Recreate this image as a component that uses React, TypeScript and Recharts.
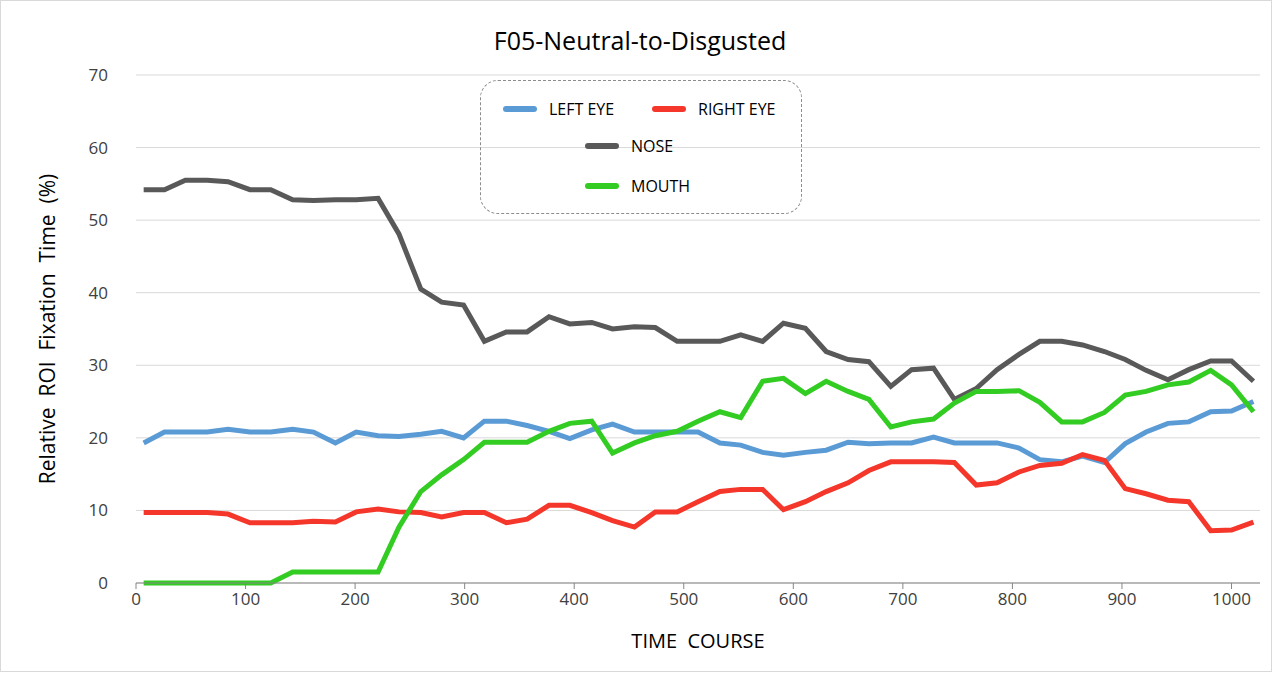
import React from 'react';
import { LineChart, Line, XAxis, YAxis, CartesianGrid } from 'recharts';

const times = [7, 26, 45, 65, 84, 104, 123, 143, 162, 182, 201, 221, 240, 260, 279, 299, 318, 338, 357, 377, 396, 416, 435, 455, 474, 494, 513, 533, 552, 572, 591, 611, 630, 650, 669, 689, 708, 728, 747, 767, 786, 806, 825, 845, 864, 884, 903, 922, 942, 961, 981, 1000, 1020];

const leftEye = [19.3, 20.8, 20.8, 20.8, 21.2, 20.8, 20.8, 21.2, 20.8, 19.3, 20.8, 20.3, 20.2, 20.5, 20.9, 20.0, 22.3, 22.3, 21.7, 20.9, 19.9, 21.1, 21.9, 20.8, 20.8, 20.8, 20.8, 19.3, 19.0, 18.0, 17.6, 18.0, 18.3, 19.4, 19.2, 19.3, 19.3, 20.1, 19.3, 19.3, 19.3, 18.6, 17.0, 16.7, 17.5, 16.6, 19.2, 20.8, 22.0, 22.2, 23.6, 23.7, 25.0];
const rightEye = [9.7, 9.7, 9.7, 9.7, 9.5, 8.3, 8.3, 8.3, 8.5, 8.4, 9.8, 10.2, 9.8, 9.7, 9.1, 9.7, 9.7, 8.3, 8.8, 10.7, 10.7, 9.7, 8.6, 7.7, 9.8, 9.8, 11.2, 12.6, 12.9, 12.9, 10.1, 11.2, 12.6, 13.8, 15.5, 16.7, 16.7, 16.7, 16.6, 13.5, 13.8, 15.3, 16.2, 16.5, 17.7, 16.9, 13.0, 12.3, 11.4, 11.2, 7.2, 7.3, 8.4];
const nose = [54.2, 54.2, 55.5, 55.5, 55.3, 54.2, 54.2, 52.8, 52.7, 52.8, 52.8, 53.0, 48.1, 40.5, 38.7, 38.3, 33.3, 34.6, 34.6, 36.7, 35.7, 35.9, 35.0, 35.3, 35.2, 33.3, 33.3, 33.3, 34.2, 33.3, 35.8, 35.1, 31.9, 30.8, 30.5, 27.1, 29.4, 29.6, 25.3, 26.8, 29.4, 31.5, 33.3, 33.3, 32.8, 31.9, 30.8, 29.3, 28.0, 29.4, 30.6, 30.6, 27.8];
const mouth = [0, 0, 0, 0, 0, 0, 0, 1.5, 1.5, 1.5, 1.5, 1.5, 7.7, 12.6, 14.9, 17.0, 19.4, 19.4, 19.4, 20.9, 22.0, 22.3, 17.9, 19.3, 20.3, 20.9, 22.3, 23.6, 22.8, 27.8, 28.2, 26.1, 27.8, 26.4, 25.3, 21.5, 22.2, 22.6, 24.8, 26.4, 26.4, 26.5, 24.9, 22.2, 22.2, 23.5, 25.9, 26.4, 27.3, 27.7, 29.3, 27.3, 23.6];

const xTicks = [0, 100, 200, 300, 400, 500, 600, 700, 800, 900, 1000];
const yTicks = [0, 10, 20, 30, 40, 50, 60, 70];

const data = times.map((t, i) => ({
  t,
  leftEye: leftEye[i],
  rightEye: rightEye[i],
  nose: nose[i],
  mouth: mouth[i],
}));

const FONT = '"Open Sans", "Noto Sans", sans-serif';

const Swatch = ({ color }: { color: string }) => (
  <span style={{ display: 'inline-block', width: 34, height: 6, borderRadius: 3, background: color, marginRight: 12 }} />
);

const LegendBox = () => (
  <div style={{ position: 'absolute', left: 479, top: 79, width: 322, height: 134, boxSizing: 'border-box', border: '1px dashed #8c8c8c', borderRadius: 18, fontSize: 16, color: '#000' }}>
    <div style={{ position: 'absolute', left: 22, top: 17, display: 'flex', alignItems: 'center' }}>
      <Swatch color="#5b9bd5" />LEFT EYE
    </div>
    <div style={{ position: 'absolute', left: 171, top: 17, display: 'flex', alignItems: 'center' }}>
      <Swatch color="#f4372a" />RIGHT EYE
    </div>
    <div style={{ position: 'absolute', left: 104, top: 54, display: 'flex', alignItems: 'center' }}>
      <Swatch color="#595959" />NOSE
    </div>
    <div style={{ position: 'absolute', left: 104, top: 94, display: 'flex', alignItems: 'center' }}>
      <Swatch color="#33cc22" />MOUTH
    </div>
  </div>
);

export default function App() {
  return (
    <div style={{ position: 'absolute', left: 0, top: 0, width: 1270, height: 670, border: '1px solid #d9d9d9', background: '#fff', fontFamily: FONT }}>
      <LineChart width={1270} height={670} data={data} margin={{ top: 74, right: 11, bottom: 58, left: 0 }}>
        <CartesianGrid vertical={false} stroke="#d9d9d9" />
        <XAxis
          dataKey="t"
          type="number"
          domain={[0, 1026]}
          ticks={xTicks}
          stroke="#868686"
          tickSize={6}
          tick={{ fill: '#404040', fontSize: 17, fontFamily: FONT }}
          tickMargin={4}
        />
        <YAxis
          width={135}
          domain={[0, 70]}
          ticks={yTicks}
          axisLine={false}
          tickLine={false}
          tick={{ fill: '#404040', fontSize: 17, fontFamily: FONT }}
          tickMargin={22}
        />
        <Line dataKey="leftEye" stroke="#5b9bd5" strokeWidth={5} dot={false} isAnimationActive={false} />
        <Line dataKey="rightEye" stroke="#f4372a" strokeWidth={5} dot={false} isAnimationActive={false} />
        <Line dataKey="nose" stroke="#595959" strokeWidth={5} dot={false} isAnimationActive={false} />
        <Line dataKey="mouth" stroke="#33cc22" strokeWidth={5} dot={false} isAnimationActive={false} />
      </LineChart>
      <div style={{ position: 'absolute', left: 0, width: 1278, top: 22, textAlign: 'center', fontSize: 25, color: '#000' }}>
        F05-Neutral-to-Disgusted
      </div>
      <div style={{ position: 'absolute', left: 46, top: 328, transform: 'translate(-50%, -50%) rotate(-90deg)', whiteSpace: 'pre', fontSize: 21, color: '#000' }}>
        {'Relative  ROI  Fixation  Time  (%)'}
      </div>
      <div style={{ position: 'absolute', left: 135, width: 1124, top: 626, textAlign: 'center', whiteSpace: 'pre', fontSize: 20, color: '#000' }}>
        {'TIME  COURSE'}
      </div>
      <LegendBox />
    </div>
  );
}
